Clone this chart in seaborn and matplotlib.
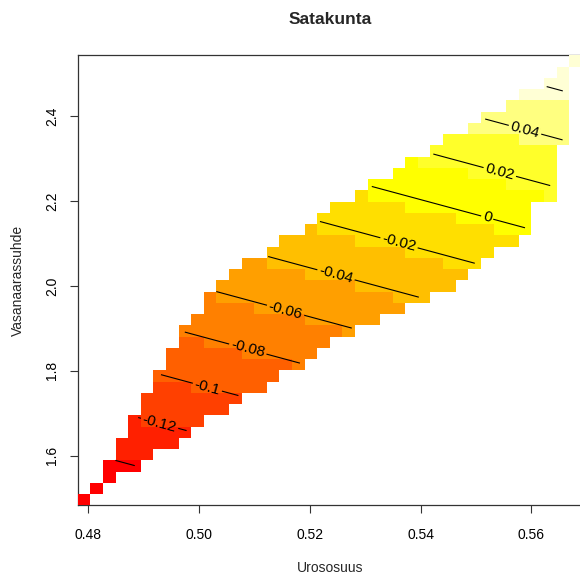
import numpy as np
import matplotlib
matplotlib.use("Agg")
import matplotlib.pyplot as plt
import seaborn as sns
from matplotlib.colors import ListedColormap, BoundaryNorm

# ---------------- data ----------------
title = "Satakunta"
x_label = "Urososuus"
y_label = "Vasanaarassuhde"

# grid extent (cell edges) and size
x_range = (0.47809, 0.56911)
y_range = (1.4831, 2.5438)
n_cols = 40
n_rows = 40

# filled cells per grid row (bottom row first): first and last column index
row_first_col = [0, 1, 2, 2, 3, 3, 4, 4, 5, 5, 6, 6, 7, 7, 8, 8, 9, 10, 10, 11,
                 12, 13, 15, 16, 18, 19, 20, 22, 23, 25, 26, 28, 29, 31, 32, 34, 35, 37, 38, 39]
row_last_col = [0, 1, 2, 4, 5, 7, 8, 9, 11, 12, 14, 15, 17, 18, 19, 21, 23, 25, 27, 29,
                30, 31, 32, 34, 35, 35, 35, 37, 37, 37, 37, 37, 38, 38, 38, 38, 38, 38, 38, 39]

# fitted surface (plane): z = c0 + cx*x + cy*y
coef_const = -0.71064
coef_x = 0.6096
coef_y = 0.1731

contour_levels = [-0.14, -0.12, -0.10, -0.08, -0.06, -0.04, -0.02, 0.0, 0.02, 0.04, 0.06]
heat_colors = ["#FF0000", "#FF2000", "#FF4000", "#FF6000", "#FF8000", "#FF9F00",
               "#FFBF00", "#FFDF00", "#FFFF00", "#FFFF2A", "#FFFF80", "#FFFFD5"]

x_ticks = [0.48, 0.50, 0.52, 0.54, 0.56]
x_tick_labels = ["0.48", "0.50", "0.52", "0.54", "0.56"]
y_ticks = [1.6, 1.8, 2.0, 2.2, 2.4]
y_tick_labels = ["1.6", "1.8", "2.0", "2.2", "2.4"]

# ---------------- style ----------------
sns.set_style("white")
plt.rcParams["font.family"] = ["Liberation Sans", "DejaVu Sans"]

W, H = 580, 578
fig = plt.figure(figsize=(W / 100, H / 100), dpi=100)
L, R, T, B = 77.7, 581.7, 55.3, 505.3
ax = fig.add_axes([L / W, 1 - B / H, (R - L) / W, (B - T) / H])

x_edges = np.linspace(x_range[0], x_range[1], n_cols + 1)
y_edges = np.linspace(y_range[0], y_range[1], n_rows + 1)
xc = (x_edges[:-1] + x_edges[1:]) / 2
yc = (y_edges[:-1] + y_edges[1:]) / 2
XX, YY = np.meshgrid(xc, yc)
Z = coef_const + coef_x * XX + coef_y * YY
mask = np.ones_like(Z, dtype=bool)
for r, (a, b) in enumerate(zip(row_first_col, row_last_col)):
    mask[r, a:b + 1] = False
Zm = np.ma.array(Z, mask=mask)

breaks = np.linspace(Zm.min(), Zm.max(), len(heat_colors) + 1)
cmap = ListedColormap(sns.color_palette(heat_colors))
cmap.set_over(heat_colors[-1])
cmap.set_under(heat_colors[0])
norm = BoundaryNorm(breaks, len(heat_colors))

ax.pcolormesh(x_edges, y_edges, Zm, cmap=cmap, norm=norm, shading="flat",
              antialiased=False, edgecolors="none", zorder=3)

cs = ax.contour(xc, yc, Zm, levels=contour_levels, colors="black",
                linewidths=0.8, linestyles="solid", zorder=4)


def fmt(v):
    v = round(float(v), 2) + 0.0
    return f"{v:g}"


ax.clabel(cs, fmt=fmt, fontsize=11, inline=True, inline_spacing=2)

ax.set_xlim(x_edges[0], x_edges[-1])
ax.set_ylim(y_edges[0], y_edges[-1])
ax.set_xticks(x_ticks)
ax.set_xticklabels(x_tick_labels)
ax.set_yticks(y_ticks)
ax.set_yticklabels(y_tick_labels, rotation=90, va="center")
ax.tick_params(axis="both", which="both", direction="out", length=5.5, width=0.8,
               colors="#333333", labelcolor="black", labelsize=10,
               bottom=True, left=True, top=False, right=False)
ax.tick_params(axis="x", pad=11)
ax.tick_params(axis="y", pad=8)
for side in ["left", "top", "bottom"]:
    ax.spines[side].set_visible(True)
    ax.spines[side].set_color("#333333")
    ax.spines[side].set_linewidth(0.9)
ax.spines["right"].set_visible(False)
ax.grid(False)

cx = (L + R) / 2 / W
fig.text(cx, 1 - 19 / H, title, ha="center", va="center", fontsize=12.5, fontweight="bold")
fig.text(cx, 1 - 568 / H, x_label, ha="center", va="center", fontsize=10)
fig.text(18 / W, 1 - (T + B) / 2 / H, y_label, ha="center", va="center", rotation=90, fontsize=10)

fig.savefig("out.png", dpi=100)
